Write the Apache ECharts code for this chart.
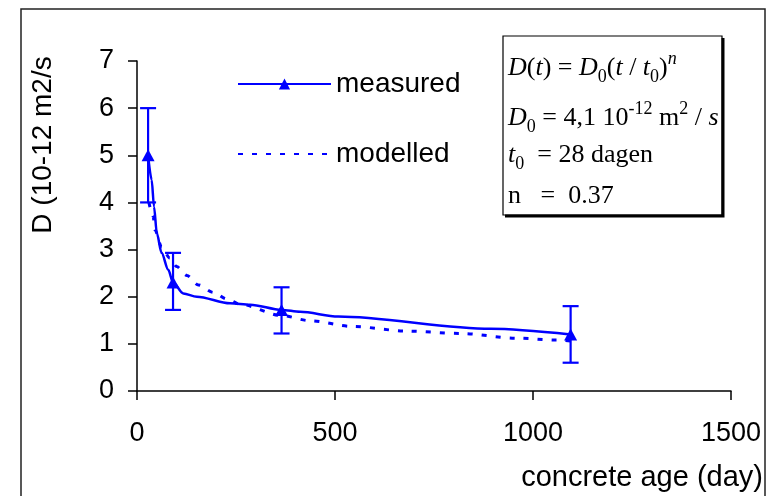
<!DOCTYPE html>
<html><head><meta charset="utf-8">
<script src="https://cdn.jsdelivr.net/npm/echarts@6/dist/echarts.min.js"></script>
<style>html,body{margin:0;padding:0;background:#fff}#c{width:771px;height:496px}</style>
</head><body><div id="c"></div>
<script>
// ---- data ----
const xTicks = [0, 500, 1000, 1500];
const yTicks = [0, 1, 2, 3, 4, 5, 6, 7];
const measuredAge = [28, 91, 365, 1095];
const measuredD = [5.0, 2.3, 1.7, 1.2];
const measuredLow = [4.0, 1.72, 1.22, 0.6];
const measuredHigh = [6.0, 2.93, 2.2, 1.8];
const measuredCurveAge = [28, 37, 43, 50, 62, 79, 91, 117, 151, 235, 286, 365, 412, 508, 893, 1095];
const measuredCurveD = [5.0, 4.48, 3.91, 3.35, 2.93, 2.57, 2.3, 2.07, 2.0, 1.86, 1.83, 1.72, 1.68, 1.58, 1.32, 1.2];
const modelAge = [30, 41, 45, 62, 83, 100, 126, 155, 193, 227, 260, 365, 437, 543, 682, 817, 960, 1061, 1095];
const modelD = [4.0, 3.7, 3.42, 3.06, 2.82, 2.64, 2.45, 2.25, 2.09, 1.95, 1.84, 1.6, 1.49, 1.37, 1.27, 1.22, 1.12, 1.08, 1.06];
const seriesNames = ['measured', 'modelled'];
const xName = 'concrete age (day)';
const yName = 'D (10-12 m2/s';

const BLUE = '#0000ff';
const chart = echarts.init(document.getElementById('c'));

const measuredData = measuredCurveAge.map((a, i) => {
  const item = { value: [a, measuredCurveD[i]] };
  if (!measuredAge.includes(a)) item.symbol = 'none';
  return item;
});
const modelData = modelAge.map((a, i) => [a, modelD[i]]);
const errData = measuredAge.map((a, i) => [a, measuredLow[i], measuredHigh[i]]);

const serif = 'Liberation Serif';
const rich = {
  i: { fontFamily: serif, fontStyle: 'italic', fontSize: 26, lineHeight: 36, color: '#000' },
  r: { fontFamily: serif, fontSize: 26, lineHeight: 36, color: '#000' },
  sub: { fontFamily: serif, fontSize: 18, lineHeight: 21, verticalAlign: 'bottom', color: '#000' },
  sup: { fontFamily: serif, fontSize: 18, lineHeight: 16, verticalAlign: 'top', color: '#000' },
  supi: { fontFamily: serif, fontStyle: 'italic', fontSize: 18, lineHeight: 16, verticalAlign: 'top', color: '#000' }
};
function ftext(y, t) {
  return { type: 'text', left: 508, top: y - 18, z: 20,
    style: { text: t, rich: rich, fill: '#000', align: 'left', verticalAlign: 'top' } };
}

const option = {
  animation: false,
  backgroundColor: '#fff',
  grid: { left: 137, right: 40, top: 61, bottom: 105 },
  xAxis: {
    type: 'value', min: xTicks[0], max: xTicks[xTicks.length - 1], interval: xTicks[1] - xTicks[0],
    axisLine: { show: true, onZero: false, lineStyle: { color: '#000', width: 1.5 } },
    axisTick: { show: true, length: 9, lineStyle: { color: '#000', width: 1.5 } },
    axisLabel: { color: '#000', fontSize: 27, fontFamily: 'Liberation Sans', margin: 29,
      formatter: v => String(v) },
    splitLine: { show: false }
  },
  yAxis: {
    type: 'value', min: yTicks[0], max: yTicks[yTicks.length - 1], interval: yTicks[1] - yTicks[0],
    axisLine: { show: true, onZero: false, lineStyle: { color: '#000', width: 1.5 } },
    axisTick: { show: true, length: 9, lineStyle: { color: '#000', width: 1.5 } },
    axisLabel: { color: '#000', fontSize: 27, fontFamily: 'Liberation Sans', margin: 23,
      formatter: v => String(v) },
    splitLine: { show: false }
  },
  legend: {
    orient: 'vertical', left: 232, top: 65, itemWidth: 93, itemHeight: 14, itemGap: 42,
    data: [
      { name: seriesNames[0] },
      { name: seriesNames[1], itemStyle: { opacity: 0 } }
    ],
    textStyle: { fontSize: 28, color: '#000', fontFamily: 'Liberation Sans' }
  },
  series: [
    { name: seriesNames[1], type: 'line', data: modelData, symbol: 'none', smooth: 0.3, smoothMonotone: 'x',
      lineStyle: { color: BLUE, width: 3, type: [5, 9] }, itemStyle: { color: BLUE }, z: 2 },
    { name: 'err', type: 'custom', data: errData, z: 3,
      encode: { x: 0, y: [1, 2] },
      renderItem: function (params, api) {
        const x = api.value(0);
        const lo = api.coord([x, api.value(1)]);
        const hi = api.coord([x, api.value(2)]);
        const w = 8;
        const st = { stroke: BLUE, lineWidth: 2.2 };
        return { type: 'group', children: [
          { type: 'line', shape: { x1: hi[0], y1: hi[1], x2: lo[0], y2: lo[1] }, style: st },
          { type: 'line', shape: { x1: hi[0] - w, y1: hi[1], x2: hi[0] + w, y2: hi[1] }, style: st },
          { type: 'line', shape: { x1: lo[0] - w, y1: lo[1], x2: lo[0] + w, y2: lo[1] }, style: st }
        ] };
      } },
    { name: seriesNames[0], type: 'line', data: measuredData, symbol: 'triangle', symbolSize: [13, 12],
      smooth: 0.3, smoothMonotone: 'x',
      lineStyle: { color: BLUE, width: 2.5 }, itemStyle: { color: BLUE }, z: 4 }
  ],
  graphic: [
    { type: 'rect', shape: { x: 21, y: 9, width: 744, height: 495 }, style: { fill: null, stroke: '#222', lineWidth: 1.5 }, z: 0, silent: true },
    { type: 'rect', shape: { x: 503, y: 36, width: 219, height: 179 }, style: { fill: '#fff', stroke: '#000', lineWidth: 1.2 }, z: 10 },
    { type: 'polyline', shape: { points: [[723, 38], [723, 216], [505, 216]] }, style: { fill: null, stroke: '#000', lineWidth: 3 }, z: 10 },
    ftext(68, '{i|D}{r|(}{i|t}{r|) = }{i|D}{sub|0}{r|(}{i|t}{r| / }{i|t}{sub|0}{r|)}{supi|n}'),
    ftext(118, '{i|D}{sub|0}{r| = 4,1 10}{sup|-12}{r| m}{sup|2}{r| / }{i|s}'),
    ftext(160, '{i|t}{sub|0}{r|  = 28 dagen}'),
    ftext(201, '{r|n   =  0.37}'),
    { type: 'text', x: 43, y: 145, rotation: Math.PI / 2, z: 20,
      style: { text: yName, fontSize: 28, fontFamily: 'Liberation Sans', fill: '#000', align: 'center', verticalAlign: 'middle' } },
    { type: 'text', x: 763, y: 478, z: 20,
      style: { text: xName, fontSize: 29, fontFamily: 'Liberation Sans', fill: '#000', align: 'right', verticalAlign: 'middle' } }
  ]
};
chart.setOption(option);
</script>
</body></html>
